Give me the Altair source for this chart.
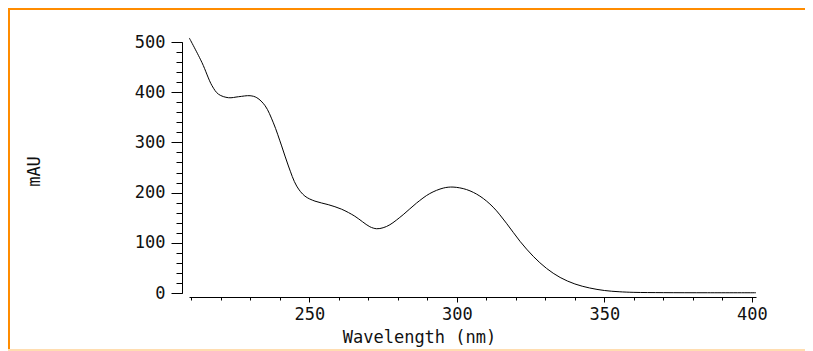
import altair as alt
import pandas as pd

wavelength = [209.3, 213.6, 217.0, 219.2, 222.6, 226.0, 229.9, 232.2, 235.0, 237.8,
              240.6, 242.9, 245.7, 248.5, 251.9, 256.4, 260.9, 265.4, 268.0, 270.5,
              272.8, 275.0, 277.3, 281.8, 286.3, 290.8, 295.4, 298.7, 303.3, 307.8,
              312.3, 316.8, 321.4, 325.9, 330.4, 335.0, 340.0, 345.0, 350.0, 355.0,
              360.0, 370.0, 385.0, 401.4]
mau = [508, 459, 413, 396, 389, 391, 393, 389, 373, 339,
       293, 253, 213, 193, 183, 176, 167, 153, 142, 132,
       128, 130, 136, 156, 179, 198, 209, 211, 206, 193,
       171, 139, 103, 73, 49, 31, 18, 10, 5, 2.5,
       1.3, 0.7, 0.5, 0.5]

x_major = [250, 300, 350, 400]
x_minor = list(range(210, 401, 10))
y_major = [0, 100, 200, 300, 400, 500]
y_minor = list(range(0, 501, 20))

df = pd.DataFrame({"wl": wavelength, "mau": mau})

FONT = "DejaVu Sans Mono"
xscale = alt.Scale(domain=[209.2, 401.4], nice=False, zero=False)
yscale = alt.Scale(domain=[0, 500], nice=False, zero=False)

common = dict(grid=False, domainColor="black", tickColor="black", domainWidth=1, tickWidth=1,
              labelFont=FONT, labelFontSize=17, labelColor="#111", labelFlush=False,
              labelOverlap=False, titleFont=FONT, titleFontSize=17, titleFontWeight="normal",
              titleColor="#111")

main = alt.Chart(df).mark_line(color="black", strokeWidth=1, interpolate="catmull-rom").encode(
    x=alt.X("wl:Q", scale=xscale, axis=alt.Axis(
        orient="bottom", values=x_major, tickSize=5, offset=4, labelPadding=4,
        title="Wavelength (nm)", titleX=230, titleY=45, titleAlign="center",
        titleBaseline="alphabetic", **common)),
    y=alt.Y("mau:Q", scale=yscale, axis=alt.Axis(
        orient="left", values=y_major, tickSize=11, offset=7, labelPadding=6,
        title="mAU", titleX=-148, titleY=129, titleAngle=270, titleAlign="center",
        titleBaseline="middle", **common)),
)

minor = alt.Chart(df).mark_line(opacity=0).encode(
    x=alt.X("wl:Q", scale=xscale, axis=alt.Axis(
        orient="bottom", values=x_minor, tickSize=3, offset=4, labels=False, domain=False,
        title=None, grid=False, tickColor="black")),
    y=alt.Y("mau:Q", scale=yscale, axis=alt.Axis(
        orient="left", values=y_minor, tickSize=6, offset=7, labels=False, domain=False,
        title=None, grid=False, tickColor="black")),
)

orange = "#FF8C00"
left_border = alt.Chart(df).mark_rule(color=orange, strokeWidth=1.5).encode(
    x=alt.value(-180), y=alt.value(-33.5), y2=alt.value(308))
top_border = alt.Chart(df).mark_rule(color=orange, strokeWidth=1.5).encode(
    x=alt.value(-180.5), x2=alt.value(616), y=alt.value(-33.5))
bottom_border = alt.Chart(df).mark_rule(color="#FFDDB0", strokeWidth=1.5).encode(
    x=alt.value(-180.5), x2=alt.value(616), y=alt.value(308))

chart = alt.layer(main, minor, left_border, top_border, bottom_border).resolve_axis(
    x="independent", y="independent"
).properties(
    width=567, height=251,
    autosize=alt.AutoSizeParams(type="none"),
    padding={"left": 181, "top": 34, "right": 49, "bottom": 58},
).configure(background="white").configure_view(strokeWidth=0, stroke="transparent")

chart.save("out.html", embed_options={"renderer": "svg", "actions": False})
